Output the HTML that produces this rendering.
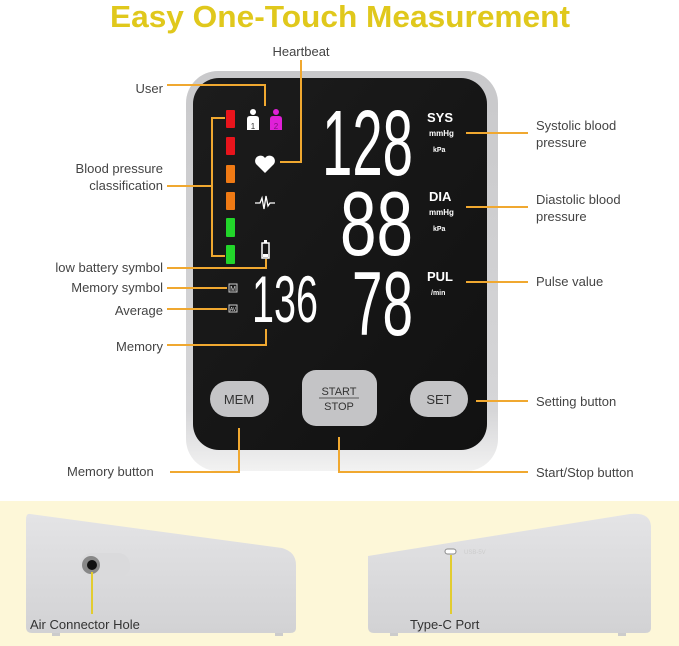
<!DOCTYPE html>
<html><head><meta charset="utf-8"><style>
html,body{margin:0;padding:0;background:#fff;}
svg{display:block;}
text{font-family:"Liberation Sans",sans-serif;}
</style></head><body>
<svg width="679" height="646" viewBox="0 0 679 646" xmlns="http://www.w3.org/2000/svg">
<defs>
<linearGradient id="body" x1="0" y1="0" x2="0" y2="1">
<stop offset="0" stop-color="#c9c9cb"/><stop offset="0.85" stop-color="#d6d6d8"/><stop offset="1" stop-color="#f2f2f2"/>
</linearGradient>
<linearGradient id="scr" x1="0" y1="0" x2="1" y2="1">
<stop offset="0" stop-color="#1c1c1c"/><stop offset="1" stop-color="#111"/>
</linearGradient>
<linearGradient id="side" x1="0" y1="0" x2="0" y2="1">
<stop offset="0" stop-color="#e4e4e6"/><stop offset="1" stop-color="#d2d2d4"/>
</linearGradient>
</defs>
<text x="340" y="27" text-anchor="middle" font-size="31" font-weight="bold" fill="#e0c81c" textLength="460" lengthAdjust="spacingAndGlyphs">Easy One-Touch Measurement</text>

<!-- device -->
<rect x="186" y="71" width="312" height="400" rx="32" fill="url(#body)"/>
<rect x="193" y="78" width="294" height="372" rx="26" fill="url(#scr)"/>

<!-- bars -->
<rect x="226" y="110" width="9" height="18" rx="1" fill="#e8141c"/>
<rect x="226" y="137" width="9" height="18" rx="1" fill="#e8141c"/>
<rect x="226" y="165" width="9" height="18" rx="1" fill="#f07a14"/>
<rect x="226" y="192" width="9" height="18" rx="1" fill="#f07a14"/>
<rect x="226" y="218" width="9" height="19" rx="1" fill="#22d62a"/>
<rect x="226" y="245" width="9" height="19" rx="1" fill="#22d62a"/>

<!-- users -->
<circle cx="253" cy="112" r="3" fill="#fff"/><path d="M247 130 v-11 q0-3 3-3 h6 q3 0 3 3 v11z" fill="#fff"/>
<text x="253" y="129" font-size="8" text-anchor="middle" fill="#333">1</text>
<circle cx="276" cy="112" r="3" fill="#e020d8"/><path d="M270 130 v-11 q0-3 3-3 h6 q3 0 3 3 v11z" fill="#e020d8"/>
<text x="276" y="129" font-size="8" text-anchor="middle" fill="#801080">2</text>
<!-- heart -->
<path d="M265 173 l-9-9 a5 5 0 0 1 9-6 a5 5 0 0 1 9 6z" fill="#fff"/>
<!-- pulse -->
<polyline points="255,203 260,203 262,198 264,209 266,196 268,206 270,203 275,203" fill="none" stroke="#fff" stroke-width="1.3"/>
<!-- battery -->
<rect x="262" y="243" width="7" height="15" fill="none" stroke="#fff" stroke-width="1.5"/><rect x="264" y="240" width="3" height="3" fill="#fff"/>
<rect x="263" y="254" width="5" height="3" fill="#fff"/>
<!-- M AV -->
<rect x="229" y="284" width="8" height="8" fill="none" stroke="#ccc" stroke-width="1"/><text x="233" y="291" font-size="7" text-anchor="middle" fill="#ddd">M</text>
<rect x="229" y="305" width="8" height="7" fill="none" stroke="#ccc" stroke-width="1"/><text x="233" y="311" font-size="5" text-anchor="middle" fill="#ddd">AV</text>

<!-- digits -->
<text x="322" y="175" font-size="93" fill="#fff" textLength="91" lengthAdjust="spacingAndGlyphs">128</text>
<text x="340" y="255" font-size="91" fill="#fff" textLength="73" lengthAdjust="spacingAndGlyphs">88</text>
<text x="352" y="335" font-size="91" fill="#fff" textLength="61" lengthAdjust="spacingAndGlyphs">78</text>
<text x="252" y="322" font-size="66" fill="#fff" textLength="66" lengthAdjust="spacingAndGlyphs">136</text>

<text x="427" y="122" font-size="13" font-weight="bold" fill="#fff">SYS</text>
<text x="429" y="136" font-size="8" font-weight="bold" fill="#fff">mmHg</text>
<text x="433" y="152" font-size="7" font-weight="bold" fill="#fff">kPa</text>
<text x="429" y="201" font-size="13" font-weight="bold" fill="#fff">DIA</text>
<text x="429" y="215" font-size="8" font-weight="bold" fill="#fff">mmHg</text>
<text x="433" y="231" font-size="7" font-weight="bold" fill="#fff">kPa</text>
<text x="427" y="281" font-size="13" font-weight="bold" fill="#fff">PUL</text>
<text x="431" y="295" font-size="7" font-weight="bold" fill="#fff">/min</text>

<!-- buttons -->
<rect x="210" y="381" width="59" height="36" rx="18" fill="#c4c4c6"/>
<text x="239" y="404" font-size="13" text-anchor="middle" fill="#333">MEM</text>
<rect x="302" y="370" width="75" height="56" rx="14" fill="#c4c4c6"/>
<text x="339" y="395" font-size="11" text-anchor="middle" fill="#333">START</text>
<line x1="319" y1="398" x2="359" y2="398" stroke="#333" stroke-width="0.8"/>
<text x="339" y="410" font-size="11" text-anchor="middle" fill="#333">STOP</text>
<rect x="410" y="381" width="58" height="36" rx="18" fill="#c4c4c6"/>
<text x="439" y="404" font-size="13" text-anchor="middle" fill="#333">SET</text>

<!-- callouts -->
<g fill="none" stroke="#f0a830" stroke-width="2">
<polyline points="167,85 265,85 265,106"/>
<polyline points="301,60 301,162 280,162"/>
<line x1="167" y1="186" x2="212" y2="186"/>
<polyline points="225,118 212,118 212,256 225,256"/>
<polyline points="167,268 266,268 266,259"/>
<line x1="167" y1="288" x2="227" y2="288"/>
<line x1="167" y1="309" x2="227" y2="309"/>
<polyline points="167,345 266,345 266,329"/>
<polyline points="170,472 239,472 239,428"/>
<polyline points="339,437 339,472 528,472"/>
<line x1="466" y1="133" x2="528" y2="133"/>
<line x1="466" y1="207" x2="528" y2="207"/>
<line x1="466" y1="282" x2="528" y2="282"/>
<line x1="476" y1="401" x2="528" y2="401"/>
</g>
<g font-size="13" fill="#444">
<text x="301" y="56" text-anchor="middle">Heartbeat</text>
<text x="163" y="93" text-anchor="end">User</text>
<text x="163" y="173" text-anchor="end">Blood pressure</text>
<text x="163" y="190" text-anchor="end">classification</text>
<text x="163" y="272" text-anchor="end">low battery symbol</text>
<text x="163" y="292" text-anchor="end">Memory symbol</text>
<text x="163" y="315" text-anchor="end">Average</text>
<text x="163" y="351" text-anchor="end">Memory</text>
<text x="67" y="476">Memory button</text>
<text x="536" y="130">Systolic blood</text>
<text x="536" y="147">pressure</text>
<text x="536" y="204">Diastolic blood</text>
<text x="536" y="221">pressure</text>
<text x="536" y="286">Pulse value</text>
<text x="536" y="406">Setting button</text>
<text x="536" y="477">Start/Stop button</text>
</g>

<!-- bottom panel -->
<rect x="0" y="501" width="679" height="145" fill="#fdf7d8"/>
<path d="M30 514 L282 548 Q296 552 296 565 L296 628 Q296 633 290 633 L32 633 Q26 633 26 627 L26 520 Q26 513 30 514Z" fill="url(#side)"/>
<rect x="52" y="633" width="8" height="3" fill="#ccc"/><rect x="275" y="633" width="8" height="3" fill="#ccc"/>
<rect x="80" y="553" width="50" height="25" rx="12" fill="#dadadc"/>
<circle cx="91" cy="565" r="9" fill="#888"/><circle cx="92" cy="565" r="5" fill="#111"/>
<path d="M368 556 L630 514 Q650 512 651 526 L651 628 Q651 633 645 633 L374 633 Q368 633 368 627Z" fill="url(#side)"/>
<rect x="390" y="633" width="8" height="3" fill="#ccc"/><rect x="618" y="633" width="8" height="3" fill="#ccc"/>
<rect x="445" y="549" width="11" height="5" rx="2.5" fill="#fff" stroke="#888" stroke-width="1"/>
<text x="464" y="554" font-size="6" fill="#ccc">USB-5V</text>
<line x1="92" y1="572" x2="92" y2="614" stroke="#e2cc30" stroke-width="2"/>
<line x1="451" y1="555" x2="451" y2="614" stroke="#e2cc30" stroke-width="2"/>
<text x="30" y="629" font-size="13" fill="#333">Air Connector Hole</text>
<text x="410" y="629" font-size="13" fill="#333">Type-C Port</text>
</svg>
</body></html>
